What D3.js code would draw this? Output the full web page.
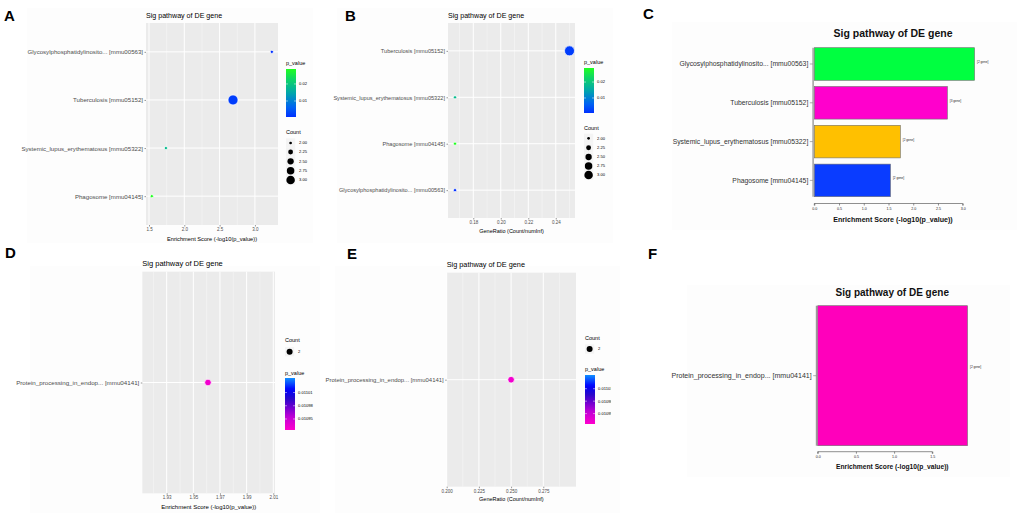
<!DOCTYPE html>
<html>
<head>
<meta charset="utf-8">
<script src="https://cdn.jsdelivr.net/npm/d3@7"></script>
<style>
  body { margin: 0; background: #fff; }
  svg { display: block; font-family: "Liberation Sans", Arial, sans-serif; }
</style>
</head>
<body>
<svg id="fig" width="1020" height="513"></svg>
<script>
// ---- data ----
const pathways4 = ['Glycosylphosphatidylinosito... [mmu00563]', 'Tuberculosis [mmu05152]',
    'Systemic_lupus_erythematosus [mmu05322]', 'Phagosome [mmu04145]']
const enrich4 = [3.24, 2.69, 1.74, 1.54]
const count4 = [2, 3, 2, 2]
const pval4 = [0.00058, 0.00204, 0.0182, 0.0288]
const barColors4 = ['#00ff40', '#ff00cc', '#ffc000', '#0a3cff']

const pathwaysB = ['Tuberculosis [mmu05152]', 'Systemic_lupus_erythematosus [mmu05322]',
    'Phagosome [mmu04145]', 'Glycosylphosphatidylinosito... [mmu00563]']
const ratioB = [0.25, 0.1667, 0.1667, 0.1667]
const countB = [3, 2, 2, 2]
const pvalB = [0.00204, 0.0182, 0.0288, 0.00058]

const pathway1 = ['Protein_processing_in_endop... [mmu04141]']
const enrich1 = [1.961]
const ratio1 = [0.25]
const count1 = [2]
const pval1 = [0.010931]
const barColors1 = ['#ff00bb']

const xTicksA = [1.5, 2.0, 2.5, 3.0]
const xTicksB = [0.18, 0.20, 0.22, 0.24]
const xTicksC = [0, 0.5, 1.0, 1.5, 2.0, 2.5, 3.0]
const xTicksD = [1.93, 1.95, 1.97, 1.99, 2.01]
const xTicksE = [0.200, 0.225, 0.250, 0.275]
const xTicksF = [0, 0.5, 1.0, 1.5]
const countTicks4 = [2.00, 2.25, 2.50, 2.75, 3.00]
const countTicks1 = [2]
const pTicks4 = [0.01, 0.02]
const pTicks1 = [0.01095, 0.01098, 0.01101]
const pRange1 = [0.010925, 0.011043]

const title = 'Sig pathway of DE gene'
const enrichTitle = 'Enrichment Score (-log10(p_value))'
const ratioTitle = 'GeneRatio (Count/numInf)'

const svg = d3.select('#fig')

// faint backgrounds of the pasted sub-images
const sheets = [[27, 8, 286, 235], [337, 8, 276, 235], [672, 22, 345, 208],
    [30, 266, 290, 247], [335, 266, 285, 247], [687, 285, 323, 192]]
svg.selectAll('rect.sheet').data(sheets).join('rect')
    .attr('class', 'sheet')
    .attr('x', d => d[0]).attr('y', d => d[1])
    .attr('width', d => d[2]).attr('height', d => d[3])
    .attr('fill', '#fdfdfd')

// panel letters
const letters = [['A', 4, 21], ['B', 345, 21], ['C', 643, 19], ['D', 5, 258], ['E', 347, 259], ['F', 648, 259]]
svg.selectAll('text.letter').data(letters).join('text')
    .attr('class', 'letter')
    .attr('x', d => d[1]).attr('y', d => d[2])
    .style('font-size', '15px').style('font-weight', 'bold').style('fill', '#000')
    .text(d => d[0])

// colour scales
const stops4 = [[0, '#0030ff'], [0.2, '#0062f2'], [0.5, '#00a6ab'], [0.8, '#10d862'], [1, '#20ff20']]
const p4 = d3.extent(pval4)
const pColor4 = d3.scaleLinear()
    .domain(stops4.map(s => p4[0] + s[0] * (p4[1] - p4[0])))
    .range(stops4.map(s => s[1]))
const stops1 = [[0, '#ff00cc'], [0.25, '#c000d6'], [0.45, '#6a00cf'], [0.62, '#2208cc'], [0.78, '#0000ff'], [1, '#1090ff']]
const pColor1 = d3.scaleLinear()
    .domain(stops1.map(s => pRange1[0] + s[0] * (pRange1[1] - pRange1[0])))
    .range(stops1.map(s => s[1]))
const sizeScale = d3.scaleRadial().domain([2, 3]).range([1.6, 5])

const defs = svg.append('defs')
function gradient(id, colorFn, domain) {
    const g = defs.append('linearGradient').attr('id', id)
        .attr('x1', 0).attr('y1', 1).attr('x2', 0).attr('y2', 0)
    d3.range(0, 1.0001, 0.05).forEach(t => {
        g.append('stop').attr('offset', t)
            .attr('stop-color', colorFn(domain[0] + t * (domain[1] - domain[0])))
    })
}
gradient('grad4', pColor4, p4)
gradient('grad1', pColor1, pRange1)

// ---- ggplot-like dot plot ----
function dotPanel(o) {
    const g = svg.append('g')
    const x = d3.scaleLinear().domain(o.xDomain).range([o.left, o.right])
    const y = d3.scalePoint().domain(o.cats).range([o.top, o.bottom]).padding(0.6)
    const radius = o.pointR ? () => o.pointR : c => sizeScale(c)

    g.append('rect')
        .attr('x', o.left).attr('y', o.top)
        .attr('width', o.right - o.left).attr('height', o.bottom - o.top)
        .attr('fill', '#ebebeb')

    g.selectAll('line.minor').data(o.minor).join('line')
        .attr('x1', d => x(d)).attr('x2', d => x(d))
        .attr('y1', o.top).attr('y2', o.bottom)
        .attr('stroke', '#f7f7f7').attr('stroke-width', 0.6)
    g.selectAll('line.vmaj').data(o.xTicks).join('line')
        .attr('x1', d => x(d)).attr('x2', d => x(d))
        .attr('y1', o.top).attr('y2', o.bottom)
        .attr('stroke', '#fff').attr('stroke-width', 1)
    g.selectAll('line.hmaj').data(o.cats).join('line')
        .attr('x1', o.left).attr('x2', o.right)
        .attr('y1', d => y(d)).attr('y2', d => y(d))
        .attr('stroke', '#fff').attr('stroke-width', 1)

    // axes
    const xAxis = g.append('g').attr('transform', `translate(0,${o.bottom})`)
        .call(d3.axisBottom(x).tickValues(o.xTicks).tickFormat(d3.format(o.fmt)).tickSize(1.5).tickPadding(1.5))
    xAxis.select('.domain').remove()
    xAxis.selectAll('line').attr('stroke', '#333').attr('stroke-width', 0.5)
    xAxis.selectAll('text').style('font-size', '4.5px').style('fill', '#4d4d4d')
        .style('font-family', '"Liberation Sans", Arial, sans-serif')

    const yAxis = g.append('g').attr('transform', `translate(${o.left},0)`)
        .call(d3.axisLeft(y).tickSize(1.5).tickPadding(1.5))
    yAxis.select('.domain').remove()
    yAxis.selectAll('line').attr('stroke', '#333').attr('stroke-width', 0.5)
    yAxis.selectAll('text').style('font-size', o.yFont + 'px').style('fill', '#4d4d4d')
        .style('font-family', '"Liberation Sans", Arial, sans-serif')

    // points
    g.selectAll('circle.pt').data(o.cats).join('circle')
        .attr('cx', (d, i) => x(o.xs[i]))
        .attr('cy', d => y(d))
        .attr('r', (d, i) => radius(o.counts[i]))
        .attr('fill', (d, i) => o.color(o.pvals[i]))
        .attr('stroke', '#fff').attr('stroke-width', 0.7)

    // titles
    g.append('text').attr('x', o.left).attr('y', o.top - 5.5)
        .style('font-size', o.titleFont + 'px').style('fill', '#000')
        .text(title)
    g.append('text').attr('x', (o.left + o.right) / 2).attr('y', o.xTitleY)
        .attr('text-anchor', 'middle')
        .style('font-size', o.xTitleFont + 'px').style('fill', '#000')
        .text(o.xTitle)
    return g
}

function pLegend(o) {
    const g = svg.append('g')
    if (o.clip) {
        defs.append('clipPath').attr('id', o.clip)
            .append('rect').attr('x', o.x - 2).attr('y', o.y - 10).attr('width', o.clipW).attr('height', 80)
        g.attr('clip-path', `url(#${o.clip})`)
    }
    g.append('text').attr('x', o.x).attr('y', o.y)
        .style('font-size', '5.5px').style('fill', '#000').text('p_value')
    g.append('rect').attr('x', o.x).attr('y', o.barTop)
        .attr('width', 10).attr('height', o.barBottom - o.barTop)
        .attr('fill', `url(#${o.grad})`)
    const s = d3.scaleLinear().domain(o.domain).range([o.barBottom, o.barTop])
    g.selectAll('line.pt').data(o.ticks).join('line')
        .attr('x1', o.x).attr('x2', o.x + 2).attr('y1', d => s(d)).attr('y2', d => s(d))
        .attr('stroke', '#fff').attr('stroke-width', 0.5)
    g.selectAll('line.pt2').data(o.ticks).join('line')
        .attr('x1', o.x + 8).attr('x2', o.x + 10).attr('y1', d => s(d)).attr('y2', d => s(d))
        .attr('stroke', '#fff').attr('stroke-width', 0.5)
    g.selectAll('text.pl').data(o.ticks).join('text')
        .attr('x', o.x + 13).attr('y', d => s(d) + 1.4)
        .style('font-size', '4.1px').style('fill', '#000')
        .text(d => d3.format(o.fmt)(d))
}

function countLegend(o) {
    const g = svg.append('g')
    const radius = o.keyR ? () => o.keyR : c => sizeScale(c) * 0.85
    g.append('text').attr('x', o.x).attr('y', o.y)
        .style('font-size', '5.5px').style('fill', '#000').text('Count')
    g.selectAll('rect.key').data(o.ticks).join('rect')
        .attr('x', o.x).attr('y', (d, i) => o.keys[i] - 4.6)
        .attr('width', 9.2).attr('height', 9.2).attr('fill', '#f4f4f4')
    g.selectAll('circle.key').data(o.ticks).join('circle')
        .attr('cx', o.x + 4.6).attr('cy', (d, i) => o.keys[i])
        .attr('r', d => radius(d)).attr('fill', '#000')
    g.selectAll('text.kl').data(o.ticks).join('text')
        .attr('x', o.x + 13).attr('y', (d, i) => o.keys[i] + 1.4)
        .style('font-size', '4.1px').style('fill', '#000')
        .text(d => d3.format(o.fmt)(d))
}

// ---- base-R-like horizontal bar plot ----
function barPanel(o) {
    const g = svg.append('g')
    const x = d3.scaleLinear().domain([0, o.xTicks[o.xTicks.length - 1]]).range([o.left, o.axisRight])
    const y = d3.scaleBand().domain(o.cats).range([o.top, o.bottom]).paddingInner(o.pad).paddingOuter(0)

    g.append('line').attr('x1', o.left - 1.2).attr('x2', o.left - 1.2)
        .attr('y1', o.top).attr('y2', o.bottom)
        .attr('stroke', '#9a9a9a').attr('stroke-width', 1.4)
    g.selectAll('line.yt').data(o.cats).join('line')
        .attr('x1', o.left - 4.5).attr('x2', o.left - 1.5)
        .attr('y1', d => y(d) + y.bandwidth() / 2).attr('y2', d => y(d) + y.bandwidth() / 2)
        .attr('stroke', '#777').attr('stroke-width', 0.6)
    g.selectAll('text.yl').data(o.cats).join('text')
        .attr('x', o.left - 6).attr('y', d => y(d) + y.bandwidth() / 2 + o.yFont * 0.35)
        .attr('text-anchor', 'end')
        .style('font-size', o.yFont + 'px').style('fill', '#333')
        .text(d => d)

    g.selectAll('rect.bar').data(o.cats).join('rect')
        .attr('x', x(0)).attr('y', d => y(d))
        .attr('width', (d, i) => x(o.values[i]) - x(0))
        .attr('height', y.bandwidth())
        .attr('fill', (d, i) => o.colors[i])
        .attr('stroke', '#6f6f6f').attr('stroke-width', 0.6)
    g.selectAll('text.bl').data(o.cats).join('text')
        .attr('x', (d, i) => x(o.values[i]) + 2.5)
        .attr('y', d => y(d) + y.bandwidth() * 0.44 + 1)
        .style('font-size', '3.1px').style('fill', '#222')
        .text((d, i) => `[${o.counts[i]} gene]`)

    const xAxis = g.append('g').attr('transform', `translate(0,${o.axisY})`)
        .call(d3.axisBottom(x).tickValues(o.xTicks).tickFormat(d3.format('.1f')).tickSize(2).tickPadding(1.5))
    xAxis.select('.domain').attr('stroke', '#444').attr('stroke-width', 0.6)
        .attr('d', `M${o.left},2V0H${o.axisRight}V2`)
    xAxis.selectAll('line').attr('stroke', '#444').attr('stroke-width', 0.6)
    xAxis.selectAll('text').style('font-size', '3.6px').style('fill', '#222')
        .style('font-family', '"Liberation Sans", Arial, sans-serif')

    g.append('text').attr('x', o.titleX).attr('y', o.titleY)
        .attr('text-anchor', 'middle')
        .style('font-size', o.titleFont + 'px').style('font-weight', 'bold').style('fill', '#111')
        .text(title)
    g.append('text').attr('x', o.titleX).attr('y', o.xTitleY)
        .attr('text-anchor', 'middle')
        .style('font-size', o.xTitleFont + 'px').style('font-weight', 'bold').style('fill', '#111')
        .text(enrichTitle)
}

// A
dotPanel({ left: 146, right: 278, top: 23, bottom: 225, cats: pathways4, xs: enrich4, counts: count4,
    pvals: pval4, color: pColor4, xDomain: [1.4575, 3.327], xTicks: xTicksA, minor: [1.75, 2.25, 2.75],
    fmt: '.1f', yFont: 6.1, titleFont: 7.1, xTitle: enrichTitle, xTitleY: 240.5, xTitleFont: 5.7 })
pLegend({ x: 286, y: 65, barTop: 69, barBottom: 117, grad: 'grad4', domain: p4, ticks: pTicks4, fmt: '.2f' })
countLegend({ x: 286, y: 134, keys: [143, 152, 161.3, 170.7, 180], ticks: countTicks4, fmt: '.2f' })

// B
dotPanel({ left: 448, right: 575, top: 23, bottom: 218, cats: pathwaysB, xs: ratioB, counts: countB,
    pvals: pvalB, color: pColor4, xDomain: [0.1616, 0.254], xTicks: xTicksB, minor: [0.17, 0.19, 0.21, 0.23, 0.25],
    fmt: '.2f', yFont: 5.6, titleFont: 7.1, xTitle: ratioTitle, xTitleY: 232.5, xTitleFont: 5.5 })
pLegend({ x: 584, y: 64, barTop: 68, barBottom: 113, grad: 'grad4', domain: p4, ticks: pTicks4, fmt: '.2f' })
countLegend({ x: 584, y: 130, keys: [138.3, 147.7, 157, 166, 175], ticks: countTicks4, fmt: '.2f' })

// C
barPanel({ left: 814.3, axisRight: 962.7, top: 47.7, bottom: 196.7, pad: 0.16, cats: pathways4, values: enrich4,
    counts: count4, colors: barColors4, xTicks: xTicksC, axisY: 203.5, yFont: 6.8,
    titleX: 893, titleY: 37, titleFont: 10.5, xTitleY: 221.5, xTitleFont: 7.1 })

// D
dotPanel({ left: 142.3, right: 275, top: 271.7, bottom: 493.3, cats: pathway1, xs: enrich1, counts: count1,
    pvals: pval1, color: pColor1, xDomain: [1.9117, 2.0113], xTicks: xTicksD, minor: [1.92, 1.94, 1.96, 1.98, 2.00],
    fmt: '.2f', yFont: 6.2, titleFont: 7.5, xTitle: enrichTitle, xTitleY: 509, xTitleFont: 6, pointR: 3.3 })
countLegend({ x: 285, y: 342, keys: [351.7], ticks: countTicks1, fmt: 'd', keyR: 3 })
pLegend({ x: 285, y: 375, barTop: 378, barBottom: 430, grad: 'grad1', domain: pRange1, ticks: pTicks1, fmt: '.5f' })

// E
dotPanel({ left: 446.7, right: 576, top: 272.7, bottom: 486.7, cats: pathway1, xs: ratio1, counts: count1,
    pvals: pval1, color: pColor1, xDomain: [0.2, 0.3004], xTicks: xTicksE, minor: [0.2125, 0.2375, 0.2625, 0.2875],
    fmt: '.3f', yFont: 5.95, titleFont: 7.3, xTitle: ratioTitle, xTitleY: 500.5, xTitleFont: 5.5, pointR: 3.3 })
countLegend({ x: 585, y: 340, keys: [349], ticks: countTicks1, fmt: 'd', keyR: 3 })
pLegend({ x: 585, y: 371, barTop: 375, barBottom: 424, grad: 'grad1', domain: pRange1, ticks: pTicks1, fmt: '.5f',
    clip: 'clipE', clipW: 28 })

// F
barPanel({ left: 817.7, axisRight: 932.3, top: 305.7, bottom: 445.7, pad: 0, cats: pathway1, values: enrich1,
    counts: count1, colors: barColors1, xTicks: xTicksF, axisY: 451.7, yFont: 7.05,
    titleX: 892.3, titleY: 295.5, titleFont: 10, xTitleY: 468.5, xTitleFont: 6.7 })
</script>
</body>
</html>
